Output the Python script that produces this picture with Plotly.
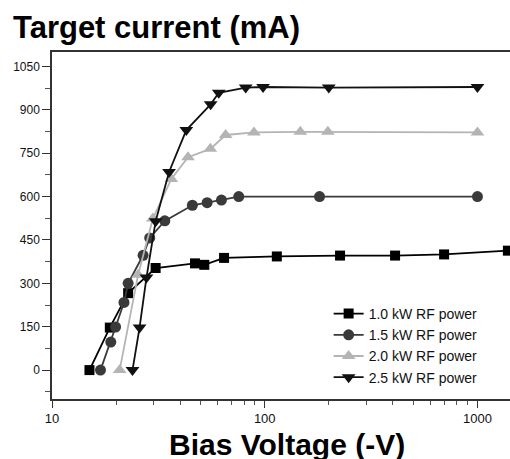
import plotly.graph_objects as go

# ---- data ----
V_10 = [15, 18.7, 22.8, 30.7, 47, 52, 64.4, 114, 226, 410, 697, 1390]
I_10 = [0, 147, 266, 353, 369, 364, 388, 393, 396, 396, 400, 413]

V_15 = [16.9, 18.9, 19.9, 21.8, 22.8, 26.8, 28.8, 33.9, 45.7, 53.6, 62.6, 75.5, 181, 1000]
I_15 = [0, 97, 149, 234, 300, 397, 457, 516, 570, 579, 588, 600, 600, 600]

V_20 = [20.8, 25.4, 29.8, 36.4, 43.6, 55.5, 65.5, 89, 147, 198, 1000]
I_20 = [0, 330, 524, 661, 736, 765, 813, 822, 824, 824, 822]

V_25 = [23.9, 25.8, 27.8, 30.7, 35.5, 42.8, 55.7, 60.8, 81.4, 98.2, 200, 1000]
I_25 = [0, 147, 320, 515, 685, 830, 919, 959, 977, 979, 977, 979]

NAMES = ["1.0 kW RF power", "1.5 kW RF power", "2.0 kW RF power", "2.5 kW RF power"]

X_TICKS = [10, 100, 1000]
X_TICK_TEXT = ["10", "100", "1000"]
X_MINOR = [20, 30, 40, 50, 60, 70, 80, 90, 200, 300, 400, 500, 600, 700, 800, 900]

TITLE = "Target current (mA)"
X_TITLE = "Bias Voltage (-V)"

FONT = "Liberation Sans, Arial, sans-serif"

fig = go.Figure()

styles = [
    (V_10, I_10, "square", 10, "#000000"),
    (V_15, I_15, "circle", 11, "#3a3a3a"),
    (V_20, I_20, "triangle-up", 12, "#b4b4b4"),
    (V_25, I_25, "triangle-down", 12, "#111111"),
]
for (xs, ys, sym, sz, col), name in zip(styles, NAMES):
    fig.add_trace(go.Scatter(
        x=xs, y=ys, mode="lines+markers", name=name,
        line=dict(color=col, width=1.8),
        marker=dict(symbol=sym, size=sz, color=col, line=dict(width=0)),
        cliponaxis=False,
    ))

fig.update_layout(
    width=510, height=459,
    margin=dict(l=52, r=0, t=52, b=60),
    paper_bgcolor="white", plot_bgcolor="white",
    font=dict(family=FONT, color="#111111", size=13),
    showlegend=True,
    legend=dict(
        x=0.604, y=0.291, xanchor="left", yanchor="top",
        bgcolor="rgba(0,0,0,0)", borderwidth=0,
        font=dict(family=FONT, size=14, color="#111111"),
        tracegroupgap=0,
    ),
    xaxis=dict(
        type="log", range=[1, 3.153],
        tickvals=X_TICKS, ticktext=X_TICK_TEXT,
        ticks="outside", ticklen=7, tickwidth=1.3, tickcolor="#333333",
        minor=dict(tickvals=X_MINOR, ticks="outside", ticklen=4, tickwidth=1, tickcolor="#555555"),
        showline=True, linecolor="#333333", linewidth=1.5, mirror=True,
        showgrid=False, zeroline=False,
        tickfont=dict(family=FONT, size=13, color="#111111"),
    ),
    yaxis=dict(
        range=[-100, 1100], tick0=0, dtick=150,
        ticks="outside", ticklen=8, tickwidth=1.3, tickcolor="#333333",
        minor=dict(dtick=75, tick0=0, ticks="outside", ticklen=5, tickwidth=1, tickcolor="#555555"),
        showline=True, linecolor="#333333", linewidth=1.5, mirror=False,
        showgrid=False, zeroline=False,
        tickfont=dict(family=FONT, size=12, color="#111111"),
    ),
    annotations=[
        dict(text="<b>%s</b>" % TITLE, xref="paper", yref="paper",
             x=-0.0895, y=1.071, xanchor="left", yanchor="middle", showarrow=False,
             font=dict(family=FONT, size=31, color="#000000")),
        dict(text="<b>%s</b>" % X_TITLE, xref="paper", yref="paper",
             x=0.513, y=-0.130, xanchor="center", yanchor="middle", showarrow=False,
             font=dict(family=FONT, size=30, color="#000000")),
    ],
)

fig.write_html("out.html")
